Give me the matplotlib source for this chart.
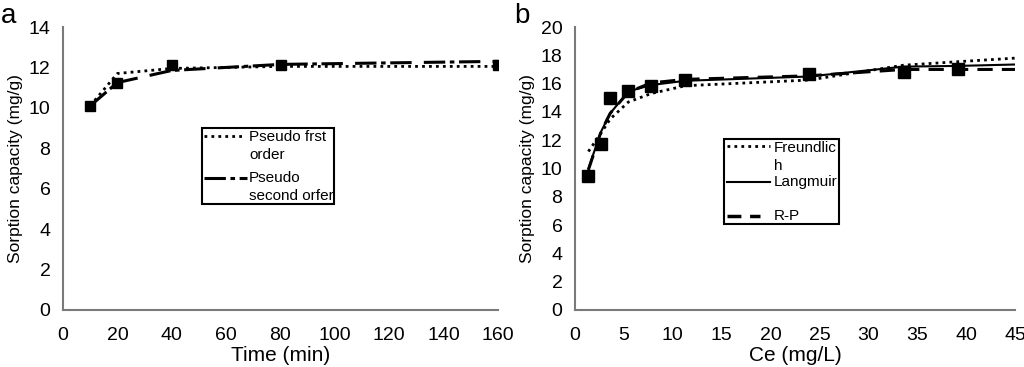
import matplotlib
matplotlib.use("Agg")
import matplotlib.pyplot as plt
from matplotlib.lines import Line2D
from matplotlib.patches import Rectangle

plt.rcParams['font.family'] = ['Liberation Sans', 'DejaVu Sans']

# ---- Panel a data ----
time_exp = [10, 20, 40, 80, 160]
q_exp = [10.1, 11.25, 12.1, 12.1, 12.1]
time_model = [10, 20, 40, 80, 160]
pfo = [10.1, 11.7, 11.95, 12.05, 12.05]
pso = [10.1, 11.25, 11.85, 12.15, 12.3]

# ---- Panel b data ----
ce_exp = [1.37, 2.66, 3.6, 5.46, 7.8, 11.3, 23.9, 33.6, 39.2]
qe_exp = [9.5, 11.76, 15.0, 15.48, 15.8, 16.24, 16.66, 16.82, 17.06]
ce_model = [1.37, 2.66, 3.6, 5.46, 7.8, 11.3, 23.9, 33.6, 39.2, 45]
freundlich = [11.2, 12.5, 13.5, 14.7, 15.3, 15.85, 16.25, 17.3, 17.55, 17.8]
langmuir = [10.0, 12.6, 13.9, 15.45, 15.9, 16.2, 16.5, 17.2, 17.25, 17.35]
rp = [9.9, 12.6, 13.9, 15.4, 16.05, 16.3, 16.55, 17.0, 17.0, 17.0]

W, H = 1024, 367
fig = plt.figure(figsize=(W / 100, H / 100), dpi=100)

def fx(x):
    return x / W

def fy(y):
    return 1 - y / H

ax1 = fig.add_axes([fx(63), fy(310), fx(498) - fx(63), fy(27) - fy(310)])
ax2 = fig.add_axes([fx(575), fy(310), fx(1015) - fx(575), fy(27) - fy(310)])

pso_style = (0, (7, 1.5, 1.5, 1.5, 7, 4))

ax1.plot(time_model, pfo, color='black', lw=2, linestyle=(0, (1, 1.5)))
ax1.plot(time_model, pso, color='black', lw=2.2, linestyle=pso_style)
ax1.plot(time_exp, q_exp, linestyle='none', marker='s', color='black', markersize=7)
ax1.set_xlim(0, 160)
ax1.set_ylim(0, 14)
ax1.set_xticks(range(0, 161, 20))
ax1.set_yticks(range(0, 15, 2))
ax1.set_xlabel('Time (min)', fontsize=15, labelpad=2)
ax1.set_ylabel('Sorption capacity (mg/g)', fontsize=12.5, labelpad=4)

ax2.plot(ce_model, freundlich, color='black', lw=2, linestyle=(0, (1, 1.5)))
ax2.plot(ce_model, langmuir, color='black', lw=1.5, linestyle='-')
ax2.plot(ce_model, rp, color='black', lw=2.2, linestyle=(0, (5, 3)))
ax2.plot(ce_exp, qe_exp, linestyle='none', marker='s', color='black', markersize=8)
ax2.set_xlim(0, 45)
ax2.set_ylim(0, 20)
ax2.set_xticks(range(0, 46, 5))
ax2.set_yticks(range(0, 21, 2))
ax2.set_xlabel('Ce (mg/L)', fontsize=15, labelpad=2)
ax2.set_ylabel('Sorption capacity (mg/g)', fontsize=12.5, labelpad=4)

for ax in (ax1, ax2):
    for s in ('top', 'right'):
        ax.spines[s].set_visible(False)
    for s in ('left', 'bottom'):
        ax.spines[s].set_color('#7a7a7a')
        ax.spines[s].set_linewidth(1.5)
    ax.tick_params(axis='x', length=0, labelsize=14, pad=12)
    ax.tick_params(axis='y', length=0, labelsize=14, pad=9)
    ax.patch.set_alpha(0)

# manual legends (figure-pixel layout)
def box(x0, y0, x1, y1):
    fig.patches.append(Rectangle((fx(x0), fy(y1)), fx(x1) - fx(x0), fy(y0) - fy(y1),
                                 transform=fig.transFigure, fill=True, facecolor='white',
                                 edgecolor='black', lw=1.5, zorder=5))

def handle(x0, x1, y, **kw):
    fig.lines.append(Line2D([fx(x0), fx(x1)], [fy(y), fy(y)], transform=fig.transFigure,
                            color='black', zorder=6, **kw))

def label(x, y, s):
    fig.text(fx(x), fy(y), s, fontsize=11, va='center', ha='left', zorder=7)

box(202, 128, 334, 204)
handle(204, 242, 136, lw=2, linestyle=(0, (1, 1.5)))
label(249, 137, 'Pseudo frst')
label(249, 155, 'order')
handle(204, 247, 178, lw=2.2, linestyle=pso_style)
label(249, 178, 'Pseudo')
label(249, 196, 'second orfer')

box(724, 139, 839, 224)
handle(727, 770, 146, lw=2, linestyle=(0, (1, 1.5)))
label(774, 148, 'Freundlic')
label(774, 166, 'h')
handle(727, 770, 182, lw=1.5, linestyle='-')
label(774, 182, 'Langmuir')
handle(727, 760, 216, lw=2.5, linestyle=(0, (4, 2.5)))
label(774, 216, 'R-P')

fig.text(fx(1), fy(16), 'a', fontsize=20, va='center', ha='left')
fig.text(fx(514), fy(16), 'b', fontsize=20, va='center', ha='left')

fig.savefig('out.png', dpi=100)
